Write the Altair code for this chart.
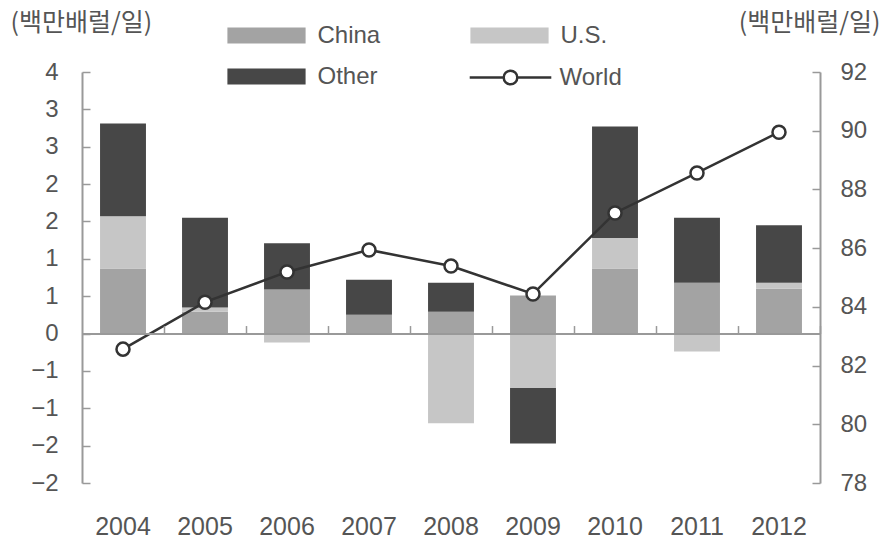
import altair as alt
import pandas as pd

years = ["2004", "2005", "2006", "2007", "2008", "2009", "2010", "2011", "2012"]
china = [0.87, 0.29, 0.59, 0.25, 0.29, 0.51, 0.87, 0.68, 0.60]
us = [0.70, 0.06, -0.12, 0.00, -1.20, -0.73, 0.41, -0.24, 0.08]
other = [1.24, 1.20, 0.62, 0.47, 0.39, -0.74, 1.49, 0.87, 0.77]
world = [82.56, 84.16, 85.19, 85.94, 85.39, 84.44, 87.20, 88.56, 89.95]

series_names = ["China", "U.S.", "Other"]
series_colors = ["#a3a3a3", "#c6c6c6", "#474747"]
left_ticks = [-2, -1.5, -1, -0.5, 0, 0.5, 1, 1.5, 2, 2.5, 3, 3.5]
right_ticks = [78, 80, 82, 84, 86, 88, 90, 92]
unit_title = "(백만배럴/일)"

rows = []
for i, y in enumerate(years):
    for k, (name, vals) in enumerate(zip(series_names, [china, us, other])):
        rows.append({"year": y, "series": name, "ord": k, "value": vals[i]})
bars_df = pd.DataFrame(rows)
world_df = pd.DataFrame({"year": years, "world": world, "s": ["World"] * len(years)})

W, H = 738, 411
FONT = "Liberation Sans"
KFONT = "Noto Sans CJK KR"
TXT = "#555555"
AX = "#999999"

x_scale = alt.Scale(paddingInner=0.44, paddingOuter=0.22)
yl_scale = alt.Scale(domain=[-2, 3.5], nice=False, zero=False)
yr_scale = alt.Scale(domain=[78, 92], nice=False, zero=False)

left_label_expr = "datum.value >= 0 ? format(round(datum.value), 'd') : '\u2212' + format(round(-datum.value), 'd')"

rect_path = "M-4.6,-0.94H4.6V0.94H-4.6Z"
world_path = "M-4.8,0H-0.8M0.8,0H4.8M-0.8,0A0.8,0.8 0 1,0 0.8,0A0.8,0.8 0 1,0 -0.8,0Z"

bars = alt.Chart(bars_df).mark_bar().encode(
    x=alt.X("year:N", scale=x_scale, title=None,
            axis=alt.Axis(orient="bottom", domain=False, ticks=False, labelAngle=0,
                          labelPadding=31, labelFontSize=25, labelColor=TXT, labelFont=FONT)),
    y=alt.Y("value:Q", stack="zero", scale=yl_scale,
            axis=alt.Axis(orient="left", values=left_ticks, labelExpr=left_label_expr,
                          ticks=False, tickSize=0, labelPadding=24, grid=False,
                          domainColor=AX, domainWidth=2, labelFontSize=24, labelColor=TXT,
                          labelFont=FONT, title=unit_title, titleAngle=0, titleAlign="left",
                          titleBaseline="middle", titleX=-72, titleY=-50, titleFontSize=25,
                          titleFont=KFONT, titleFontWeight="normal", titleColor=TXT)),
    fill=alt.Fill("series:N", scale=alt.Scale(domain=series_names, range=series_colors),
                  legend=alt.Legend(orient="none", legendX=146, legendY=-48.5, columns=2,
                                    direction="horizontal",
                                    title=None, symbolType=rect_path, symbolSize=289,
                                    symbolOffset=26.5, labelOffset=39, labelFontSize=24,
                                    labelColor=TXT, labelFont=FONT, columnPadding=89,
                                    rowPadding=17, symbolStrokeWidth=0, padding=0)),
    order=alt.Order("ord:Q"),
)

ghost_left = alt.Chart(bars_df).mark_point(opacity=0).encode(
    x=alt.X("year:N", scale=x_scale, title=None,
            axis=alt.Axis(orient="top", offset=-(H * 3.5 / 5.5), labels=False, domain=True,
                          domainColor=AX, domainWidth=2, ticks=True, tickSize=8,
                          tickColor=AX, tickWidth=1.5, bandPosition=1.393, zindex=1)),
    y=alt.Y("value:Q", scale=yl_scale,
            axis=alt.Axis(orient="right", offset=-W, values=left_ticks, labels=False,
                          domain=False, ticks=True, tickSize=8, tickColor=AX,
                          tickWidth=1.5, grid=False, title=None)),
)

line = alt.Chart(world_df).mark_line(strokeWidth=2.5).encode(
    x=alt.X("year:N", scale=x_scale, axis=None),
    y=alt.Y("world:Q", scale=yr_scale,
            axis=alt.Axis(orient="right", values=right_ticks, ticks=False, tickSize=0,
                          labelPadding=20, grid=False, domainColor=AX, domainWidth=2,
                          labelFontSize=24, labelColor=TXT, labelFont=FONT,
                          title=unit_title, titleAngle=0, titleAlign="right",
                          titleBaseline="middle", titleX=60, titleY=-50, titleFontSize=25,
                          titleFont=KFONT, titleFontWeight="normal", titleColor=TXT)),
    stroke=alt.Stroke("s:N", scale=alt.Scale(domain=["World"], range=["#333333"]),
                      legend=alt.Legend(orient="none", legendX=388, legendY=-6.5,
                                        title=None, symbolType=world_path, symbolSize=289,
                                        symbolOffset=28.5, labelOffset=37, labelFontSize=24,
                                        labelColor=TXT, labelFont=FONT,
                                        symbolFillColor="white", symbolStrokeWidth=2.5,
                                        padding=0)),
)

points = alt.Chart(world_df).mark_point(filled=True, fill="white", stroke="#333333",
                                        strokeWidth=2.5, size=170, opacity=1).encode(
    x=alt.X("year:N", scale=x_scale, axis=None),
    y=alt.Y("world:Q", scale=yr_scale,
            axis=alt.Axis(orient="left", offset=-W, values=right_ticks, labels=False,
                          domain=False, ticks=True, tickSize=8, tickColor=AX,
                          tickWidth=1.5, grid=False, title=None)),
)

left_part = alt.layer(bars, ghost_left)
right_part = alt.layer(line, points)

chart = alt.layer(left_part, right_part).resolve_scale(y="independent").properties(
    width=W, height=H,
    padding={"left": 82, "top": 72, "right": 64, "bottom": 62},
    autosize=alt.AutoSizeParams(type="none"),
    background="white",
).configure_view(stroke=None)

chart.save("out.html", embed_options={"renderer": "svg", "actions": False})
